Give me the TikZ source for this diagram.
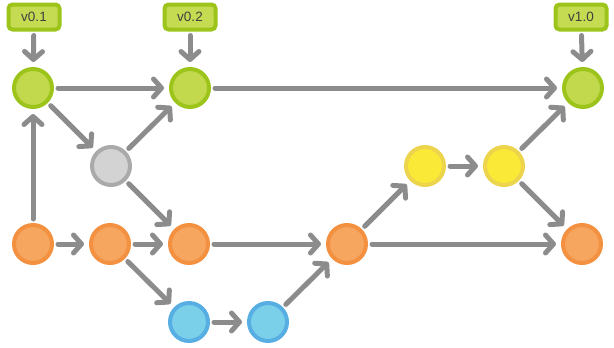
\documentclass[tikz,border=0pt]{standalone}
\usepackage{fontspec}
\setmainfont{Liberation Sans}
\usetikzlibrary{arrows.meta}
\definecolor{tagline}{HTML}{9DC41A}
\definecolor{tagfill}{HTML}{C4DB52}
\definecolor{mainline}{HTML}{9DC41A}
\definecolor{mainfill}{HTML}{C2D94E}
\definecolor{devline}{HTML}{F39140}
\definecolor{devfill}{HTML}{F6A65F}
\definecolor{fixline}{HTML}{AAAAAA}
\definecolor{fixfill}{HTML}{D3D3D3}
\definecolor{featline}{HTML}{ECD44D}
\definecolor{featfill}{HTML}{FBE937}
\definecolor{topicline}{HTML}{56AEE3}
\definecolor{topicfill}{HTML}{7ACFE9}
\definecolor{linkgray}{HTML}{8C8C8C}

\begin{document}
\begin{tikzpicture}[x=1pt, y=-1pt,
  commit/.style={circle, line width=4pt, minimum size=38pt, inner sep=0pt},
  tag/.style={draw=tagline, fill=tagfill, line width=4pt, rounded corners=4pt, minimum width=51pt, minimum height=25pt, inner sep=0pt, font=\fontsize{13.5}{15}\selectfont, text=black!75},
  link/.style={draw=linkgray, line width=5pt, line cap=round, shorten <=4pt, shorten >=5pt, -{Straight Barb[round, length=8pt, width=18pt]}}]
  \useasboundingbox (0,0) rectangle (614,348);

  % tags
  \node[tag] (v01) at (34,17) {v0.1};
  \node[tag] (v02) at (190,17) {v0.2};
  \node[tag] (v10) at (581,17) {v1.0};

  % commits
  \node[commit, draw=mainline, fill=mainfill] (m1) at (33,88) {};
  \node[commit, draw=mainline, fill=mainfill] (m2) at (190,88) {};
  \node[commit, draw=mainline, fill=mainfill] (m3) at (583,88) {};
  \node[commit, draw=fixline, fill=fixfill] (fx) at (111,166) {};
  \node[commit, draw=featline, fill=featfill] (y1) at (425,166) {};
  \node[commit, draw=featline, fill=featfill] (y2) at (504,166) {};
  \node[commit, draw=devline, fill=devfill] (d1) at (33,244) {};
  \node[commit, draw=devline, fill=devfill] (d2) at (110,244) {};
  \node[commit, draw=devline, fill=devfill] (d3) at (189,244) {};
  \node[commit, draw=devline, fill=devfill] (d4) at (347,244) {};
  \node[commit, draw=devline, fill=devfill] (d5) at (582,244) {};
  \node[commit, draw=topicline, fill=topicfill] (b1) at (189,322) {};
  \node[commit, draw=topicline, fill=topicfill] (b2) at (268,322) {};

  % links
  \draw[link] (v01) -- (m1);
  \draw[link] (v02) -- (m2);
  \draw[link] (v10) -- (m3);
  \draw[link] (m1) -- (m2);
  \draw[link] (m2) -- (m3);
  \draw[link] (m1) -- (fx);
  \draw[link] (fx) -- (m2);
  \draw[link] (fx) -- (d3);
  \draw[link] (d1) -- (m1);
  \draw[link] (d1) -- (d2);
  \draw[link] (d2) -- (d3);
  \draw[link] (d2) -- (b1);
  \draw[link] (b1) -- (b2);
  \draw[link] (b2) -- (d4);
  \draw[link] (d3) -- (d4);
  \draw[link] (d4) -- (y1);
  \draw[link] (y1) -- (y2);
  \draw[link] (y2) -- (m3);
  \draw[link] (y2) -- (d5);
  \draw[link] (d4) -- (d5);
\end{tikzpicture}
\end{document}
